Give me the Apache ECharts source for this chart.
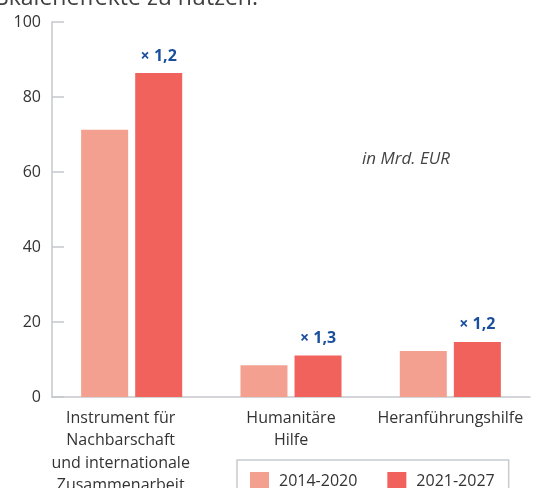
<!DOCTYPE html>
<html>
<head>
<meta charset="utf-8">
<script src="https://cdn.jsdelivr.net/npm/echarts@6/dist/echarts.min.js"></script>
<style>html,body{margin:0;padding:0;background:#fff}#c{width:548px;height:488px}</style>
</head>
<body>
<div id="c"></div>
<script>
var categories = ['Instrument für\nNachbarschaft\nund internationale\nZusammenarbeit', 'Humanitäre\nHilfe', 'Heranführungshilfe'];
var seriesNames = ['2014-2020', '2021-2027'];
var values2014 = [71.3, 8.5, 12.3];
var values2021 = [86.4, 11.1, 14.7];
var ratioLabels = ['× 1,2', '× 1,3', '× 1,2'];
var yTicks = [0, 20, 40, 60, 80, 100];

var FONT = '"Open Sans", sans-serif';
var labelPads = [[0, 22, 0, 0], [0, 0, 0, 0], [0, 0, 0, 0]];
var catData = categories.map(function (c, i) {
  return {value: c, textStyle: {padding: labelPads[i]}};
});
var chart = echarts.init(document.getElementById('c'), null, {renderer: 'canvas'});
chart.setOption({
  animation: false,
  textStyle: {fontFamily: FONT},
  grid: {left: 52, right: 18, top: 22, bottom: 91, containLabel: false, outerBoundsMode: 'none'},
  graphic: [
    {type: 'text', right: 290, top: -13, style: {text: 'Skaleneffekte zu nutzen.', font: '23px ' + FONT, fill: '#404040'}},
    {type: 'text', left: 362, top: 151, style: {text: 'in Mrd. EUR', font: 'italic 17px ' + FONT, fill: '#444'}}
  ],
  legend: {
    left: 237, top: 460,
    data: seriesNames,
    borderColor: '#c8cbcf', borderWidth: 1.5,
    padding: [12, 14, 20, 13],
    itemWidth: 19, itemHeight: 19, itemGap: 30,
    icon: 'rect',
    textStyle: {fontSize: 16, color: '#333', fontFamily: FONT, padding: [0, 0, 0, 5]}
  },
  xAxis: {
    type: 'category',
    data: catData,
    axisLine: {lineStyle: {color: '#c5c8cc', width: 1.5}},
    axisTick: {inside: true, length: 10, lineStyle: {color: '#c5c8cc', width: 1.5}},
    axisLabel: {interval: 0, fontSize: 16, lineHeight: 22.5, color: '#333', margin: 10, fontFamily: FONT}
  },
  yAxis: {
    type: 'value', min: 0, max: 100, interval: 20,
    axisLine: {show: true, lineStyle: {color: '#c5c8cc', width: 1.5}},
    axisTick: {show: true, inside: true, length: 12, lineStyle: {color: '#c5c8cc', width: 1.5}},
    splitLine: {show: false},
    axisLabel: {fontSize: 16, color: '#333', margin: 11, fontFamily: FONT,
      formatter: function (v) { return yTicks.indexOf(v) >= 0 ? String(v) : ''; }}
  },
  series: [
    {name: seriesNames[0], type: 'bar', data: values2014, barWidth: 47, barGap: '15%',
      itemStyle: {color: '#f4a091'}},
    {name: seriesNames[1], type: 'bar', data: values2021, barWidth: 47, barGap: '15%',
      itemStyle: {color: '#f0625b'},
      label: {show: true, position: 'top', distance: 9, fontSize: 16, fontWeight: 'bold', color: '#1a4f9e', fontFamily: FONT,
        formatter: function (p) { return ratioLabels[p.dataIndex]; }}}
  ]
});
</script>
</body>
</html>
